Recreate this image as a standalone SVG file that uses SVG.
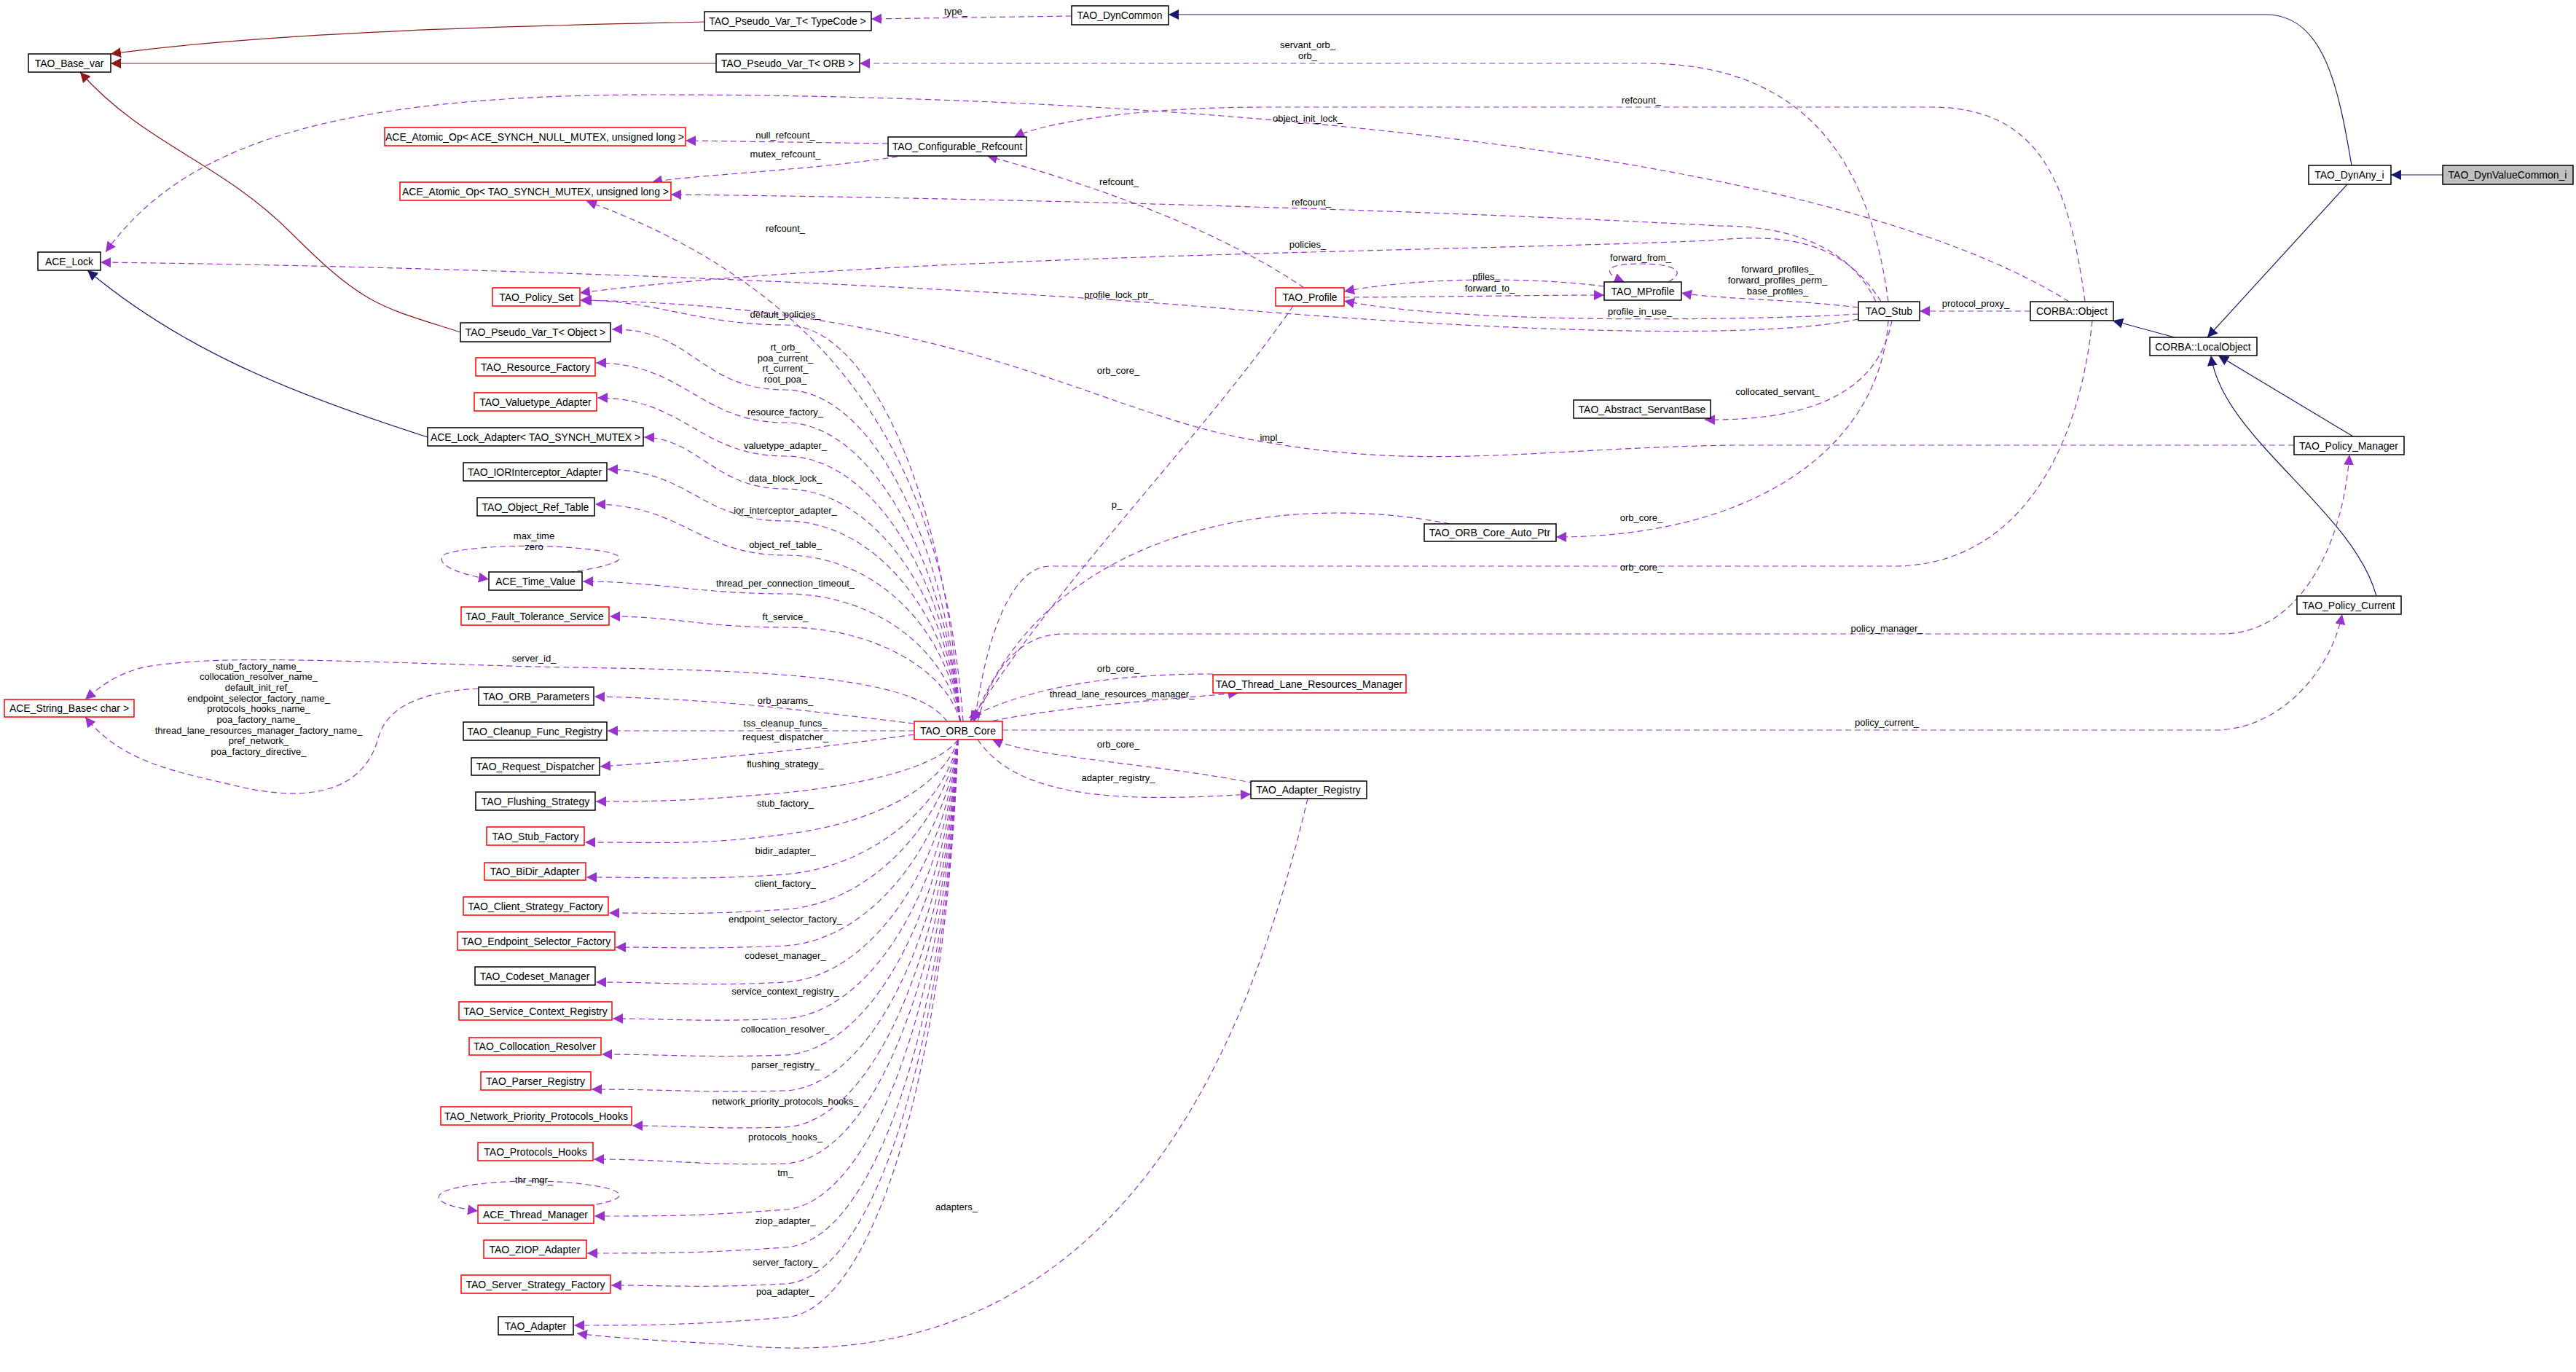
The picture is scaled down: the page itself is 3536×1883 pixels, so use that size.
<svg xmlns="http://www.w3.org/2000/svg" width="3536" height="1883" viewBox="0 0 3536 1883">
<defs>
<style>
rect{fill:#fff;stroke:#000;stroke-width:1.5}
rect.r{stroke:#f00}
rect.g{fill:#bfbfbf}
text{font-family:"Liberation Sans",Arial,sans-serif;font-size:14px;fill:#000}
text.n{text-anchor:middle}
text.l{font-size:13px;text-anchor:middle}
path{fill:none}
.p{stroke:#9a32cd;stroke-width:1.2;stroke-dasharray:8,5;marker-end:url(#mp)}
.nv{stroke:#191970;stroke-width:1.2;marker-end:url(#mn)}
.dr{stroke:#8b1a1a;stroke-width:1.2;marker-end:url(#mr)}
</style>
<marker id="mp" viewBox="0 0 10 10" refX="10" refY="5" markerWidth="14" markerHeight="14" markerUnits="userSpaceOnUse" orient="auto"><path d="M0,0L10,5L0,10z" style="fill:#9a32cd;stroke:none"/></marker>
<marker id="mn" viewBox="0 0 10 10" refX="10" refY="5" markerWidth="14" markerHeight="14" markerUnits="userSpaceOnUse" orient="auto"><path d="M0,0L10,5L0,10z" style="fill:#191970;stroke:none"/></marker>
<marker id="mr" viewBox="0 0 10 10" refX="10" refY="5" markerWidth="14" markerHeight="14" markerUnits="userSpaceOnUse" orient="auto"><path d="M0,0L10,5L0,10z" style="fill:#8b1a1a;stroke:none"/></marker>
</defs>
<rect x="0" y="0" width="3536" height="1883" style="fill:#fff;stroke:none"/>
<g id="connectors">
<path class="nv" d="M3353,240 L3282,240"/>
<path class="nv" d="M3228,227 C3210,120 3190,20 3110,20 L1604,20"/>
<path class="nv" d="M3222,253 L3030,463"/>
<path class="nv" d="M2985,463 L2900,440"/>
<path class="nv" d="M3230,599 L3045,488"/>
<path class="nv" d="M3262,818 C3230,700 3050,600 3035,488"/>
<path class="nv" d="M587,600 C400,540 250,480 120,371"/>
<path class="dr" d="M967,30 C800,34 400,40 152,74"/>
<path class="dr" d="M983,87 L152,87"/>
<path class="dr" d="M632,456 C520,420 500,420 400,320 C300,220 200,200 110,99"/>

<path class="p" d="M1471,22 L1196,26"/><text class="l" x="1312" y="20">type_</text>
<path class="p" d="M2592,414 C2570,250 2500,87 2258,87 L1180,87"/><text class="l" x="1795" y="66">servant_orb_</text><text class="l" x="1795" y="81">orb_</text>
<path class="p" d="M2862,414 C2840,250 2800,147 2650,147 L1740,147 C1550,147 1430,170 1392,188"/><text class="l" x="2253" y="142">refcount_</text>
<path class="p" d="M2840,414 C2500,200 1600,130 900,130 C450,130 250,200 145,346"/><text class="l" x="1795" y="167">object_init_lock_</text>
<path class="p" d="M1219,197 L941,193"/><text class="l" x="1078" y="190">null_refcount_</text>
<path class="p" d="M1232,215 C1100,235 950,240 895,250"/><text class="l" x="1078" y="216">mutex_refcount_</text>
<path class="p" d="M2575,414 C2540,340 2460,310 2360,310 C2000,290 1400,272 921,267"/><text class="l" x="1800" y="282">refcount_</text>
<path class="p" d="M1322,990 C1300,700 1200,420 805,276"/><text class="l" x="1078" y="318">refcount_</text>
<path class="p" d="M1790,395 C1650,300 1450,240 1355,214"/><text class="l" x="1536" y="254">refcount_</text>
<path class="p" d="M2582,414 C2530,330 2450,320 2350,330 C2000,345 1200,350 796,402"/><text class="l" x="1795" y="340">policies_</text>
<path class="p" d="M2551,438 C2400,470 2000,450 1700,425 C1300,390 600,365 138,360"/><text class="l" x="1536" y="409">profile_lock_ptr_</text>
<path class="p" d="M2551,431 C2400,440 2000,445 1845,413"/><text class="l" x="2251" y="432">profile_in_use_</text>
<path class="p" d="M2551,422 C2450,410 2350,410 2308,402"/><text class="l" x="2440" y="374">forward_profiles_</text><text class="l" x="2440" y="389">forward_profiles_perm_</text><text class="l" x="2440" y="404">base_profiles_</text>
<path class="p" d="M2202,393 C2100,380 1950,380 1845,400"/><text class="l" x="2040" y="384">pfiles_</text>
<path class="p" d="M1845,408 C1950,408 2100,405 2202,405"/><text class="l" x="2045" y="400">forward_to_</text>
<path class="p" d="M2290,387 C2320,370 2290,362 2250,362 C2200,362 2200,375 2230,387"/><text class="l" x="2252" y="358">forward_from_</text>
<path class="p" d="M2787,427 L2635,427"/><text class="l" x="2712" y="421">protocol_proxy_</text>
<path class="p" d="M2597,440 C2580,530 2500,578 2340,576"/><text class="l" x="2440" y="542">collocated_servant_</text>
<path class="p" d="M3149,611 L2380,611 C2100,615 1950,650 1700,600 C1500,560 1300,420 796,412"/><text class="l" x="1745" y="605">impl_</text>
<path class="p" d="M1775,420 C1650,600 1450,800 1332,990"/><text class="l" x="1535" y="513">orb_core_</text>
<path class="p" d="M1990,719 C1800,680 1450,700 1336,990"/><text class="l" x="1533" y="697">p_</text>
<path class="p" d="M2592,440 C2580,620 2400,737 2136,737"/><text class="l" x="2253" y="715">orb_core_</text>
<path class="p" d="M2872,440 C2850,650 2750,777 2600,777 L1440,777 C1380,780 1350,900 1338,990"/><text class="l" x="2253" y="783">orb_core_</text>
<path class="p" d="M1342,990 C1360,920 1400,870 1460,870 L3050,870 C3150,870 3215,760 3225,624"/><text class="l" x="2590" y="867">policy_manager_</text>
<path class="p" d="M1376,1002 L3040,1002 C3130,1002 3200,920 3215,843"/><text class="l" x="2590" y="996">policy_current_</text>
<path class="p" d="M1665,925 C1500,925 1400,950 1330,985"/><text class="l" x="1535" y="922">orb_core_</text>
<path class="p" d="M1350,992 C1450,970 1600,960 1700,951"/><text class="l" x="1540" y="957">thread_lane_resources_manager_</text>
<path class="p" d="M1722,1075 C1600,1050 1420,1040 1362,1015"/><text class="l" x="1535" y="1026">orb_core_</text>
<path class="p" d="M1342,1015 C1400,1100 1550,1100 1717,1090"/><text class="l" x="1535" y="1072">adapter_registry_</text>
<path class="p" d="M1795,1096 C1700,1500 1500,1900 1000,1845 C900,1840 830,1835 792,1830"/><text class="l" x="1313" y="1661">adapters_</text>

<path class="p" d="M1318,990 C1300,700 1200,446 1078,446 C960,446 900,412 798,412"/><text class="l" x="1078" y="436">default_policies_</text>
<path class="p" d="M1318,990 C1300,750 1200,535 1078,535 C960,535 950,450 840,452"/><text class="l" x="1078" y="481">rt_orb_</text><text class="l" x="1078" y="496">poa_current_</text><text class="l" x="1078" y="510">rt_current_</text><text class="l" x="1078" y="525">root_poa_</text>
<path class="p" d="M1318,990 C1300,780 1200,580 1078,580 C960,580 940,498 818,498"/><text class="l" x="1078" y="570">resource_factory_</text>
<path class="p" d="M1318,990 C1300,800 1200,626 1078,626 C960,626 940,546 820,546"/><text class="l" x="1078" y="616">valuetype_adapter_</text>
<path class="p" d="M1318,990 C1300,820 1200,671 1078,671 C980,671 960,602 884,600"/><text class="l" x="1078" y="661">data_block_lock_</text>
<path class="p" d="M1318,990 C1300,840 1200,715 1078,715 C960,715 950,646 834,644"/><text class="l" x="1078" y="705">ior_interceptor_adapter_</text>
<path class="p" d="M1318,990 C1300,860 1200,762 1078,762 C960,762 940,694 817,692"/><text class="l" x="1078" y="752">object_ref_table_</text>
<path class="p" d="M1318,990 C1300,890 1200,815 1078,815 C960,815 900,798 800,798"/><text class="l" x="1078" y="805">thread_per_connection_timeout_</text>
<path class="p" d="M1318,990 C1300,920 1200,861 1078,861 C960,861 930,846 837,846"/><text class="l" x="1078" y="851">ft_service_</text>
<path class="p" d="M1300,990 C1250,920 1000,920 733,915 C400,905 300,900 200,915 C160,925 140,940 117,960"/><text class="l" x="733" y="908">server_id_</text>
<path class="p" d="M1255,993 C1100,975 1000,960 816,956"/><text class="l" x="1078" y="966">orb_params_</text>
<path class="p" d="M1255,1003 L834,1003"/><text class="l" x="1078" y="997">tss_cleanup_funcs_</text>
<path class="p" d="M1255,1008 C1100,1030 1000,1040 824,1052"/><text class="l" x="1078" y="1016">request_dispatcher_</text>
<path class="p" d="M657,945 C560,950 530,980 520,1010 C500,1090 420,1100 330,1080 C250,1060 170,1050 117,984"/><text class="l" x="355" y="919">stub_factory_name_</text><text class="l" x="355" y="933">collocation_resolver_name_</text><text class="l" x="355" y="948">default_init_ref_</text><text class="l" x="355" y="963">endpoint_selector_factory_name_</text><text class="l" x="355" y="977">protocols_hooks_name_</text><text class="l" x="355" y="992">poa_factory_name_</text><text class="l" x="355" y="1007">thread_lane_resources_manager_factory_name_</text><text class="l" x="355" y="1021">pref_network_</text><text class="l" x="355" y="1036">poa_factory_directive_</text>
<path class="p" d="M1315,1015 C1290,1050 1200,1075 1078,1088 C960,1098 920,1100 818,1100"/><text class="l" x="1078" y="1053">flushing_strategy_</text>
<path class="p" d="M1315,1015 C1295,1080 1200,1130 1078,1145 C960,1160 920,1156 803,1156"/><text class="l" x="1078" y="1107">stub_factory_</text>
<path class="p" d="M1315,1015 C1300,1100 1200,1190 1078,1200 C960,1208 920,1204 805,1204"/><text class="l" x="1078" y="1172">bidir_adapter_</text>
<path class="p" d="M1315,1015 C1300,1120 1200,1240 1078,1248 C960,1256 920,1253 836,1253"/><text class="l" x="1078" y="1217">client_factory_</text>
<path class="p" d="M1315,1015 C1300,1150 1200,1290 1078,1298 C960,1303 920,1300 845,1300"/><text class="l" x="1078" y="1266">endpoint_selector_factory_</text>
<path class="p" d="M1315,1015 C1300,1180 1200,1340 1078,1348 C960,1354 920,1348 818,1348"/><text class="l" x="1078" y="1316">codeset_manager_</text>
<path class="p" d="M1315,1015 C1300,1210 1200,1390 1078,1398 C960,1403 920,1398 841,1398"/><text class="l" x="1078" y="1365">service_context_registry_</text>
<path class="p" d="M1315,1015 C1300,1240 1200,1440 1078,1448 C960,1452 920,1447 826,1447"/><text class="l" x="1078" y="1417">collocation_resolver_</text>
<path class="p" d="M1315,1015 C1300,1270 1200,1490 1078,1497 C960,1500 920,1495 812,1495"/><text class="l" x="1078" y="1466">parser_registry_</text>
<path class="p" d="M1315,1015 C1300,1300 1200,1540 1078,1547 C980,1550 940,1545 868,1545"/><text class="l" x="1078" y="1516">network_priority_protocols_hooks_</text>
<path class="p" d="M1315,1015 C1300,1330 1200,1590 1078,1597 C960,1600 920,1591 815,1591"/><text class="l" x="1078" y="1565">protocols_hooks_</text>
<path class="p" d="M1315,1015 C1300,1360 1200,1650 1078,1660 C960,1669 920,1669 816,1669"/><text class="l" x="1078" y="1614">tm_</text>
<path class="p" d="M1315,1015 C1300,1400 1200,1705 1078,1712 C960,1720 920,1720 806,1720"/><text class="l" x="1078" y="1680">ziop_adapter_</text>
<path class="p" d="M1315,1015 C1300,1430 1200,1755 1078,1762 C960,1768 920,1764 839,1764"/><text class="l" x="1078" y="1737">server_factory_</text>
<path class="p" d="M1315,1015 C1300,1460 1200,1800 1078,1808 C960,1818 900,1819 788,1819"/><text class="l" x="1078" y="1777">poa_adapter_</text>
<path class="p" d="M780,1659 C850,1650 870,1640 830,1630 C760,1615 650,1620 610,1635 C590,1645 610,1656 656,1662"/><text class="l" x="733" y="1624">thr_mgr_</text>
<path class="p" d="M780,786 C850,775 870,765 830,757 C760,745 650,748 612,760 C595,770 615,785 671,795"/><text class="l" x="733" y="740">max_time</text><text class="l" x="733" y="755">zero</text>
</g>

<g id="TAO_DynValueCommon_i"><rect class="g" x="3353" y="227" width="179" height="26"/><text class="n" x="3442" y="245">TAO_DynValueCommon_i</text></g>
<g id="TAO_DynAny_i"><rect x="3169" y="227" width="113" height="26"/><text class="n" x="3225" y="245">TAO_DynAny_i</text></g>
<g id="TAO_DynCommon"><rect x="1471" y="8" width="133" height="26"/><text class="n" x="1537" y="26">TAO_DynCommon</text></g>
<g id="TAO_Pseudo_Var_T_TypeCode"><rect x="967" y="16" width="229" height="26"/><text class="n" x="1081" y="34">TAO_Pseudo_Var_T&lt; TypeCode &gt;</text></g>
<g id="TAO_Base_var"><rect x="39" y="74" width="113" height="25"/><text class="n" x="95" y="92">TAO_Base_var</text></g>
<g id="TAO_Pseudo_Var_T_ORB"><rect x="983" y="74" width="197" height="25"/><text class="n" x="1081" y="92">TAO_Pseudo_Var_T&lt; ORB &gt;</text></g>
<g id="ACE_Atomic_Op_NULL"><rect class="r" x="528" y="175" width="413" height="25"/><text class="n" x="734" y="193">ACE_Atomic_Op&lt; ACE_SYNCH_NULL_MUTEX, unsigned long &gt;</text></g>
<g id="TAO_Configurable_Refcount"><rect x="1219" y="188" width="190" height="26"/><text class="n" x="1314" y="206">TAO_Configurable_Refcount</text></g>
<g id="ACE_Atomic_Op_MUTEX"><rect class="r" x="549" y="250" width="372" height="25"/><text class="n" x="735" y="268">ACE_Atomic_Op&lt; TAO_SYNCH_MUTEX, unsigned long &gt;</text></g>
<g id="ACE_Lock"><rect x="52" y="346" width="86" height="25"/><text class="n" x="95" y="364">ACE_Lock</text></g>
<g id="TAO_Policy_Set"><rect class="r" x="676" y="395" width="120" height="25"/><text class="n" x="736" y="413">TAO_Policy_Set</text></g>
<g id="TAO_Pseudo_Var_T_Object"><rect x="632" y="443" width="206" height="26"/><text class="n" x="735" y="461">TAO_Pseudo_Var_T&lt; Object &gt;</text></g>
<g id="TAO_Resource_Factory"><rect class="r" x="653" y="491" width="164" height="25"/><text class="n" x="735" y="509">TAO_Resource_Factory</text></g>
<g id="TAO_Valuetype_Adapter"><rect class="r" x="651" y="539" width="168" height="25"/><text class="n" x="735" y="557">TAO_Valuetype_Adapter</text></g>
<g id="ACE_Lock_Adapter"><rect x="587" y="587" width="296" height="25"/><text class="n" x="735" y="605">ACE_Lock_Adapter&lt; TAO_SYNCH_MUTEX &gt;</text></g>
<g id="TAO_IORInterceptor_Adapter"><rect x="636" y="635" width="197" height="25"/><text class="n" x="734" y="653">TAO_IORInterceptor_Adapter</text></g>
<g id="TAO_Object_Ref_Table"><rect x="655" y="683" width="161" height="25"/><text class="n" x="735" y="701">TAO_Object_Ref_Table</text></g>
<g id="ACE_Time_Value"><rect x="671" y="785" width="128" height="25"/><text class="n" x="735" y="803">ACE_Time_Value</text></g>
<g id="TAO_Fault_Tolerance_Service"><rect class="r" x="633" y="833" width="203" height="25"/><text class="n" x="734" y="851">TAO_Fault_Tolerance_Service</text></g>
<g id="ACE_String_Base"><rect class="r" x="6" y="960" width="178" height="24"/><text class="n" x="95" y="977">ACE_String_Base&lt; char &gt;</text></g>
<g id="TAO_ORB_Parameters"><rect x="657" y="943" width="158" height="25"/><text class="n" x="736" y="961">TAO_ORB_Parameters</text></g>
<g id="TAO_Cleanup_Func_Registry"><rect x="636" y="991" width="197" height="25"/><text class="n" x="734" y="1009">TAO_Cleanup_Func_Registry</text></g>
<g id="TAO_Request_Dispatcher"><rect x="647" y="1040" width="176" height="24"/><text class="n" x="735" y="1057">TAO_Request_Dispatcher</text></g>
<g id="TAO_Flushing_Strategy"><rect x="653" y="1087" width="164" height="25"/><text class="n" x="735" y="1105">TAO_Flushing_Strategy</text></g>
<g id="TAO_Stub_Factory"><rect class="r" x="668" y="1135" width="134" height="25"/><text class="n" x="735" y="1153">TAO_Stub_Factory</text></g>
<g id="TAO_BiDir_Adapter"><rect class="r" x="665" y="1184" width="139" height="24"/><text class="n" x="734" y="1201">TAO_BiDir_Adapter</text></g>
<g id="TAO_Client_Strategy_Factory"><rect class="r" x="636" y="1231" width="199" height="25"/><text class="n" x="735" y="1249">TAO_Client_Strategy_Factory</text></g>
<g id="TAO_Endpoint_Selector_Factory"><rect class="r" x="628" y="1279" width="216" height="25"/><text class="n" x="736" y="1297">TAO_Endpoint_Selector_Factory</text></g>
<g id="TAO_Codeset_Manager"><rect x="652" y="1327" width="165" height="25"/><text class="n" x="734" y="1345">TAO_Codeset_Manager</text></g>
<g id="TAO_Service_Context_Registry"><rect class="r" x="630" y="1375" width="210" height="25"/><text class="n" x="735" y="1393">TAO_Service_Context_Registry</text></g>
<g id="TAO_Collocation_Resolver"><rect class="r" x="644" y="1424" width="181" height="24"/><text class="n" x="734" y="1441">TAO_Collocation_Resolver</text></g>
<g id="TAO_Parser_Registry"><rect class="r" x="660" y="1471" width="151" height="25"/><text class="n" x="735" y="1489">TAO_Parser_Registry</text></g>
<g id="TAO_Network_Priority_Protocols_Hooks"><rect class="r" x="605" y="1519" width="262" height="25"/><text class="n" x="736" y="1537">TAO_Network_Priority_Protocols_Hooks</text></g>
<g id="TAO_Protocols_Hooks"><rect class="r" x="656" y="1568" width="158" height="25"/><text class="n" x="735" y="1586">TAO_Protocols_Hooks</text></g>
<g id="ACE_Thread_Manager"><rect class="r" x="656" y="1654" width="159" height="25"/><text class="n" x="735" y="1672">ACE_Thread_Manager</text></g>
<g id="TAO_ZIOP_Adapter"><rect class="r" x="664" y="1702" width="141" height="25"/><text class="n" x="734" y="1720">TAO_ZIOP_Adapter</text></g>
<g id="TAO_Server_Strategy_Factory"><rect class="r" x="633" y="1750" width="205" height="25"/><text class="n" x="735" y="1768">TAO_Server_Strategy_Factory</text></g>
<g id="TAO_Adapter"><rect x="684" y="1807" width="103" height="25"/><text class="n" x="735" y="1825">TAO_Adapter</text></g>
<g id="TAO_ORB_Core"><rect class="r" x="1255" y="990" width="121" height="25"/><text class="n" x="1315" y="1008">TAO_ORB_Core</text></g>
<g id="TAO_Profile"><rect class="r" x="1751" y="395" width="94" height="25"/><text class="n" x="1798" y="413">TAO_Profile</text></g>
<g id="TAO_MProfile"><rect x="2202" y="387" width="106" height="25"/><text class="n" x="2255" y="405">TAO_MProfile</text></g>
<g id="TAO_Stub"><rect x="2551" y="414" width="84" height="26"/><text class="n" x="2593" y="432">TAO_Stub</text></g>
<g id="CORBA_Object"><rect x="2787" y="414" width="114" height="26"/><text class="n" x="2844" y="432">CORBA::Object</text></g>
<g id="CORBA_LocalObject"><rect x="2951" y="463" width="147" height="25"/><text class="n" x="3024" y="481">CORBA::LocalObject</text></g>
<g id="TAO_Abstract_ServantBase"><rect x="2160" y="549" width="188" height="25"/><text class="n" x="2254" y="567">TAO_Abstract_ServantBase</text></g>
<g id="TAO_Policy_Manager"><rect x="3149" y="599" width="151" height="25"/><text class="n" x="3224" y="617">TAO_Policy_Manager</text></g>
<g id="TAO_ORB_Core_Auto_Ptr"><rect x="1955" y="719" width="181" height="24"/><text class="n" x="2045" y="736">TAO_ORB_Core_Auto_Ptr</text></g>
<g id="TAO_Policy_Current"><rect x="3153" y="818" width="143" height="25"/><text class="n" x="3224" y="836">TAO_Policy_Current</text></g>
<g id="TAO_Thread_Lane_Resources_Manager"><rect class="r" x="1665" y="926" width="265" height="25"/><text class="n" x="1797" y="944">TAO_Thread_Lane_Resources_Manager</text></g>
<g id="TAO_Adapter_Registry"><rect x="1717" y="1072" width="159" height="24"/><text class="n" x="1796" y="1089">TAO_Adapter_Registry</text></g>
</svg>
